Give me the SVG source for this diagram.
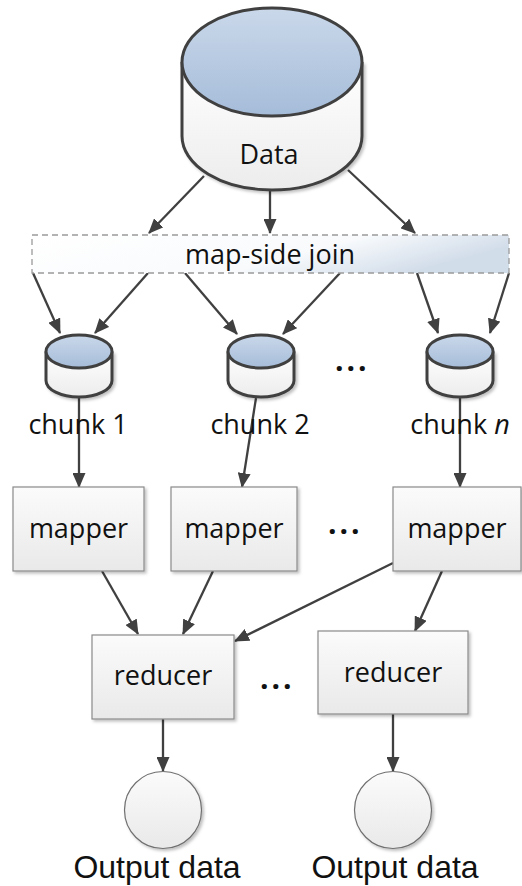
<svg xmlns="http://www.w3.org/2000/svg" width="522" height="886" viewBox="0 0 522 886">
<style>
  .lbl { font-family: "Open Sans", "Noto Sans", sans-serif; font-size: 27px; fill: #111; text-anchor: middle; }
  .out { font-family: "Liberation Sans", Arial, sans-serif; font-size: 32px; fill: #111; text-anchor: middle; }
  .dots { font-family: "Open Sans", sans-serif; font-weight: bold; font-size: 30px; fill: #111; letter-spacing: 3px; }
  .cyl { stroke: #404040; stroke-width: 3; }
  .box { fill: url(#boxg); stroke: #8a8a8a; stroke-width: 1.2; filter: url(#sh); }
  .circ { fill: url(#boxg); stroke: #707070; stroke-width: 1.2; filter: url(#sh); }
  .con line { stroke: #404040; stroke-width: 2.3; marker-end: url(#ah); }
</style>
<defs>
  <linearGradient id="topg" x1="0" y1="0" x2="0" y2="1">
    <stop offset="0" stop-color="#cad8ea"/>
    <stop offset="1" stop-color="#a5bcd9"/>
  </linearGradient>
  <linearGradient id="bodyg" x1="0" y1="0" x2="0" y2="1">
    <stop offset="0" stop-color="#ffffff"/>
    <stop offset="1" stop-color="#ececec"/>
  </linearGradient>
  <linearGradient id="boxg" x1="0" y1="0" x2="0" y2="1">
    <stop offset="0" stop-color="#fbfbfb"/>
    <stop offset="1" stop-color="#e9e9e9"/>
  </linearGradient>
  <linearGradient id="joing" x1="0" y1="0" x2="1" y2="0.3">
    <stop offset="0" stop-color="#ffffff"/>
    <stop offset="0.65" stop-color="#f8fafc"/>
    <stop offset="1" stop-color="#d2ddea"/>
  </linearGradient>
  <filter id="sh" x="-10%" y="-10%" width="130%" height="130%">
    <feDropShadow dx="2" dy="2" stdDeviation="1.5" flood-color="#000" flood-opacity="0.25"/>
  </filter>
  <marker id="ah" viewBox="0 0 15 13" refX="14" refY="6.5" markerWidth="15" markerHeight="13" markerUnits="userSpaceOnUse" orient="auto">
    <path d="M0,0 L15,6.5 L0,13 z" fill="#404040"/>
  </marker>
</defs>

<g id="connectors" class="con">
  <line x1="204" y1="176" x2="149" y2="233"/>
  <line x1="270" y1="190" x2="270" y2="233"/>
  <line x1="348" y1="170" x2="415" y2="233"/>
  <line x1="33" y1="273" x2="60" y2="333"/>
  <line x1="148" y1="273" x2="95" y2="333"/>
  <line x1="185" y1="273" x2="237" y2="334"/>
  <line x1="340" y1="273" x2="283" y2="334"/>
  <line x1="417" y1="273" x2="438" y2="333"/>
  <line x1="509" y1="273" x2="490" y2="333"/>
  <line x1="79" y1="398" x2="79" y2="487"/>
  <line x1="256" y1="398" x2="242" y2="487"/>
  <line x1="460" y1="398" x2="460" y2="487"/>
  <line x1="102" y1="571" x2="138" y2="634"/>
  <line x1="213" y1="571" x2="183" y2="634"/>
  <line x1="393" y1="563" x2="235" y2="641"/>
  <line x1="442" y1="571" x2="415" y2="631"/>
  <line x1="163" y1="719" x2="163" y2="771"/>
  <line x1="393" y1="714" x2="393" y2="771"/>
</g>

<g id="data">
  <path class="cyl" d="M182,62 L182,136 A90,54 0 0 0 362,136 L362,62" fill="url(#bodyg)" filter="url(#sh)"/>
  <ellipse class="cyl" cx="272" cy="62" rx="90" ry="54" fill="url(#topg)"/>
  <text class="lbl" x="269" y="164">Data</text>
</g>

<g id="join">
  <rect x="32" y="235" width="477" height="38" fill="url(#joing)" stroke="#9a9a9a" stroke-width="1.3" stroke-dasharray="6,4"/>
  <text class="lbl" x="270" y="264">map-side join</text>
</g>

<g id="chunk1">
  <path class="cyl" d="M46,351.5 L46,380.5 A33,16.5 0 0 0 112,380.5 L112,351.5" fill="url(#bodyg)" filter="url(#sh)"/>
  <ellipse class="cyl" cx="79" cy="351.5" rx="33" ry="16.5" fill="url(#topg)"/>
  <text class="lbl" x="78" y="434">chunk 1</text>
</g>
<g id="chunk2">
  <path class="cyl" d="M228,351.5 L228,380.5 A33,16.5 0 0 0 294,380.5 L294,351.5" fill="url(#bodyg)" filter="url(#sh)"/>
  <ellipse class="cyl" cx="261" cy="351.5" rx="33" ry="16.5" fill="url(#topg)"/>
  <text class="lbl" x="260" y="434">chunk 2</text>
</g>
<g id="chunkn">
  <path class="cyl" d="M427,351.5 L427,380.5 A33,16.5 0 0 0 493,380.5 L493,351.5" fill="url(#bodyg)" filter="url(#sh)"/>
  <ellipse class="cyl" cx="460" cy="351.5" rx="33" ry="16.5" fill="url(#topg)"/>
  <text class="lbl" x="460" y="434">chunk <tspan font-style="italic">n</tspan></text>
</g>
<text class="dots" x="335" y="371">...</text>

<g id="mapper1">
  <rect class="box" x="13" y="487" width="131" height="84"/>
  <text class="lbl" x="78.5" y="538">mapper</text>
</g>
<g id="mapper2">
  <rect class="box" x="171" y="487" width="126" height="84"/>
  <text class="lbl" x="234" y="538">mapper</text>
</g>
<g id="mappern">
  <rect class="box" x="393" y="487" width="128" height="84"/>
  <text class="lbl" x="457" y="538">mapper</text>
</g>
<text class="dots" x="328" y="534">...</text>

<g id="reducer1">
  <rect class="box" x="92" y="635" width="142" height="84"/>
  <text class="lbl" x="163" y="685">reducer</text>
</g>
<g id="reducer2">
  <rect class="box" x="318" y="631" width="150" height="83"/>
  <text class="lbl" x="393" y="682">reducer</text>
</g>
<text class="dots" x="260" y="689">...</text>

<g id="out1">
  <circle class="circ" cx="163" cy="810" r="38.5"/>
  <text class="out" x="157" y="878">Output data</text>
</g>
<g id="out2">
  <circle class="circ" cx="393" cy="810" r="38.5"/>
  <text class="out" x="395" y="878">Output data</text>
</g>
</svg>
